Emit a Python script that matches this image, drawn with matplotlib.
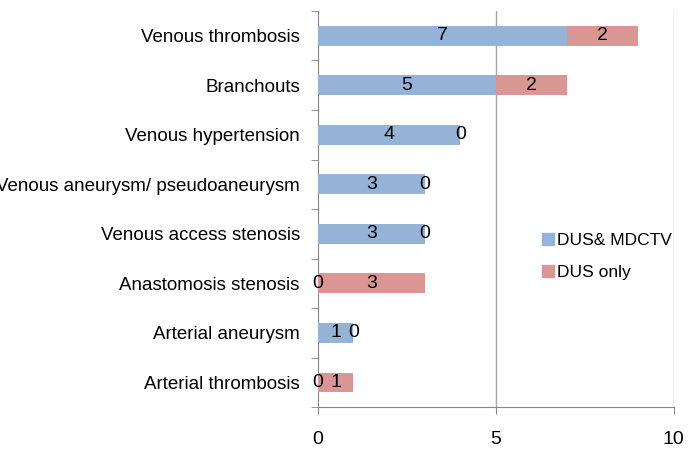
import matplotlib
matplotlib.use("Agg")
import matplotlib.pyplot as plt
import numpy as np
from matplotlib.lines import Line2D

categories = ["Arterial thrombosis", "Arterial aneurysm", "Anastomosis stenosis",
              "Venous access stenosis", "Venous aneurysm/ pseudoaneurysm",
              "Venous hypertension", "Branchouts", "Venous thrombosis"]
dus_mdctv = [0, 1, 0, 3, 3, 4, 5, 7]
dus_only = [1, 0, 3, 0, 0, 0, 2, 2]
xticks = [0, 5, 10]

FONT = ["Liberation Sans Narrow", "Liberation Sans", "DejaVu Sans"]
plt.rcParams['font.family'] = FONT

blue = "#95B3D7"
red = "#D99694"
grid = "#A6A6A6"

fig = plt.figure(figsize=(6.91, 4.57), dpi=100)
ax = fig.add_axes([0.460, 0.109, 0.515, 0.867])

y = np.arange(len(categories))
ax.barh(y, dus_mdctv, height=0.4, color=blue, label="DUS& MDCTV", zorder=3)
ax.barh(y, dus_only, left=dus_mdctv, height=0.4, color=red, label="DUS only", zorder=3)

for i in range(len(categories)):
    ax.text(dus_mdctv[i] / 2, y[i], str(dus_mdctv[i]), ha="center", va="center",
            fontsize=14, color="black", zorder=4)
    ax.text(dus_mdctv[i] + dus_only[i] / 2, y[i], str(dus_only[i]), ha="center", va="center",
            fontsize=14, color="black", zorder=4)

ax.set_xlim(0, 10)
ax.set_ylim(-0.5, len(categories) - 0.5)
ax.set_xticks(xticks)
ax.set_xticklabels([str(v) for v in xticks], fontsize=14)
ax.set_yticks(y)
ax.set_yticklabels(categories, fontsize=13.5)
ax.set_yticks(np.arange(-0.5, len(categories), 1), minor=True)
ax.tick_params(axis="y", which="major", length=0, pad=13)
ax.tick_params(axis="y", which="minor", length=5, color="#868686", direction="out")
ax.tick_params(axis="x", which="major", length=5, color="#868686", direction="out", pad=12)

for v in xticks[1:]:
    ax.axvline(v, color=grid, lw=1, zorder=1)

for s in ["top", "right"]:
    ax.spines[s].set_visible(False)
ax.spines["left"].set_color("#868686")
ax.spines["bottom"].set_color("#868686")

handles = [Line2D([], [], marker="s", ls="", color=blue, markersize=8),
           Line2D([], [], marker="s", ls="", color=red, markersize=8)]
ax.legend(handles, ["DUS& MDCTV", "DUS only"], loc="center left",
          bbox_to_anchor=(0.622, 0.38), frameon=False, fontsize=12.5,
          handletextpad=0.05, labelspacing=1.0, handlelength=1.0,
          borderaxespad=0, borderpad=0)

fig.savefig("out.png", dpi=100)
